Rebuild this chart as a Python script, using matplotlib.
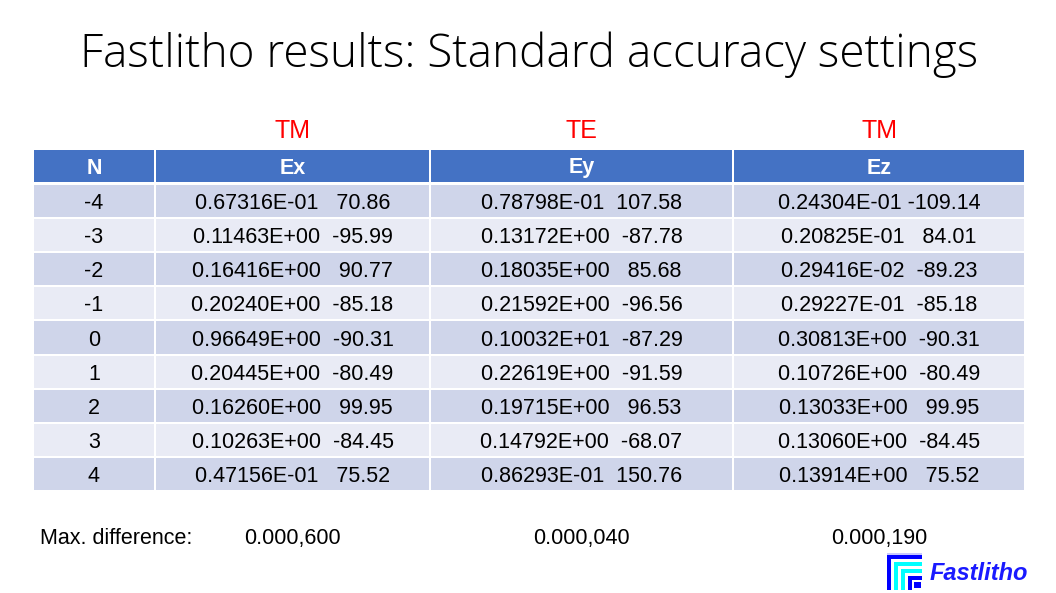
import numpy as np
import matplotlib.pyplot as plt
from matplotlib.patches import Rectangle

# table data
orders = [-4, -3, -2, -1, 0, 1, 2, 3, 4]
ex_amp = [0.67316e-01, 0.11463, 0.16416, 0.20240, 0.96649, 0.20445, 0.16260, 0.10263, 0.47156e-01]
ex_ph = [70.86, -95.99, 90.77, -85.18, -90.31, -80.49, 99.95, -84.45, 75.52]
ey_amp = [0.78798e-01, 0.13172, 0.18035, 0.21592, 1.0032, 0.22619, 0.19715, 0.14792, 0.86293e-01]
ey_ph = [107.58, -87.78, 85.68, -96.56, -87.29, -91.59, 96.53, -68.07, 150.76]
ez_amp = [0.24304e-01, 0.20825e-01, 0.29416e-02, 0.29227e-01, 0.30813, 0.10726, 0.13033, 0.13060, 0.13914]
ez_ph = [-109.14, 84.01, -89.23, -85.18, -90.31, -80.49, 99.95, -84.45, 75.52]
headers = ['N', 'Ex', 'Ey', 'Ez']
polar = ['TM', 'TE', 'TM']
max_diff = ['0.000,600', '0.000,040', '0.000,190']


def fortran_e(a):
    e = int(np.floor(np.log10(a))) + 1
    m = a / 10.0 ** e
    return '%.5fE%+03d' % (m, e)


def cell(a, p):
    return fortran_e(a) + ' ' + '%7.2f' % p


W, H = 1056, 593
fig = plt.figure(figsize=(W / 100, H / 100), dpi=100)
ax = fig.add_axes([0, 0, 1, 1])
ax.set_xlim(0, W)
ax.set_ylim(H, 0)
ax.axis('off')

font = 'Liberation Sans'
ax.text(529, 55, 'Fastlitho results: Standard accuracy settings', ha='center', va='center',
        fontsize=33, family='Open Sans', fontweight='light', color='black')

col_edges = [33, 155, 430, 733, 1025]
head_top, head_bot = 150, 182
row_top, row_bot = 184, 491
nrows = len(orders)
rh = (row_bot - row_top) / nrows
gap = 1
dy = 1.5  # small nudge so text sits like the slide

centers = [(col_edges[i] + col_edges[i + 1]) / 2 for i in range(4)]

for i, lab in enumerate(polar):
    ax.text(centers[i + 1], 130 + dy, lab, ha='center', va='center', fontsize=18, family=font, color='#ff0000')

for i, h in enumerate(headers):
    x0, x1 = col_edges[i] + gap, col_edges[i + 1] - gap
    ax.add_patch(Rectangle((x0, head_top), x1 - x0, head_bot - head_top, color='#4472c4', lw=0))
    ax.text(centers[i], (head_top + head_bot) / 2 + 2, h, ha='center', va='center', fontsize=15.5,
            family=font, fontweight='bold', color='white')

cols = [[str(n) for n in orders],
        [cell(a, p) for a, p in zip(ex_amp, ex_ph)],
        [cell(a, p) for a, p in zip(ey_amp, ey_ph)],
        [cell(a, p) for a, p in zip(ez_amp, ez_ph)]]

for r in range(nrows):
    y0 = row_top + r * rh + gap
    fc = '#cfd5ea' if r % 2 == 0 else '#e9ebf5'
    for i in range(4):
        x0, x1 = col_edges[i] + gap, col_edges[i + 1] - gap
        ax.add_patch(Rectangle((x0, y0), x1 - x0, rh - 2 * gap, color=fc, lw=0))
        ax.text(centers[i], y0 + rh / 2 + dy, cols[i][r], ha='center', va='center', fontsize=15.5,
                family=font, color='black')

ax.text(40, 537 + dy, 'Max. difference:', ha='left', va='center', fontsize=15.5, family=font, color='black')
for i, v in enumerate(max_diff):
    ax.text(centers[i + 1], 537 + dy, v, ha='center', va='center', fontsize=15.5, family=font, color='black')

# logo: nested corner bands + text
ax.add_patch(Rectangle((887, 553, ), 35, 2, color='#c8c8ff', lw=0))
bands = [(887, 555, 35, '#0000ff'), (891, 559, 31, 'white'), (894, 562, 28, '#00ffff'),
         (898, 566, 24, 'white'), (901, 569, 21, '#00ffff'), (905, 573, 17, 'white'),
         (908, 576, 14, '#0000ff'), (912, 580, 10, 'white')]
for x, y, s, c in bands:
    ax.add_patch(Rectangle((x, y), s, s, color=c, lw=0))
ax.add_patch(Rectangle((914, 582, ), 7, 6, color='#0000ff', lw=0))
ax.text(930, 573, 'Fastlitho', ha='left', va='center', fontsize=17, family=font,
        fontweight='bold', style='italic', color='#1a1aff')

fig.savefig('out.png', dpi=100, facecolor='white')
